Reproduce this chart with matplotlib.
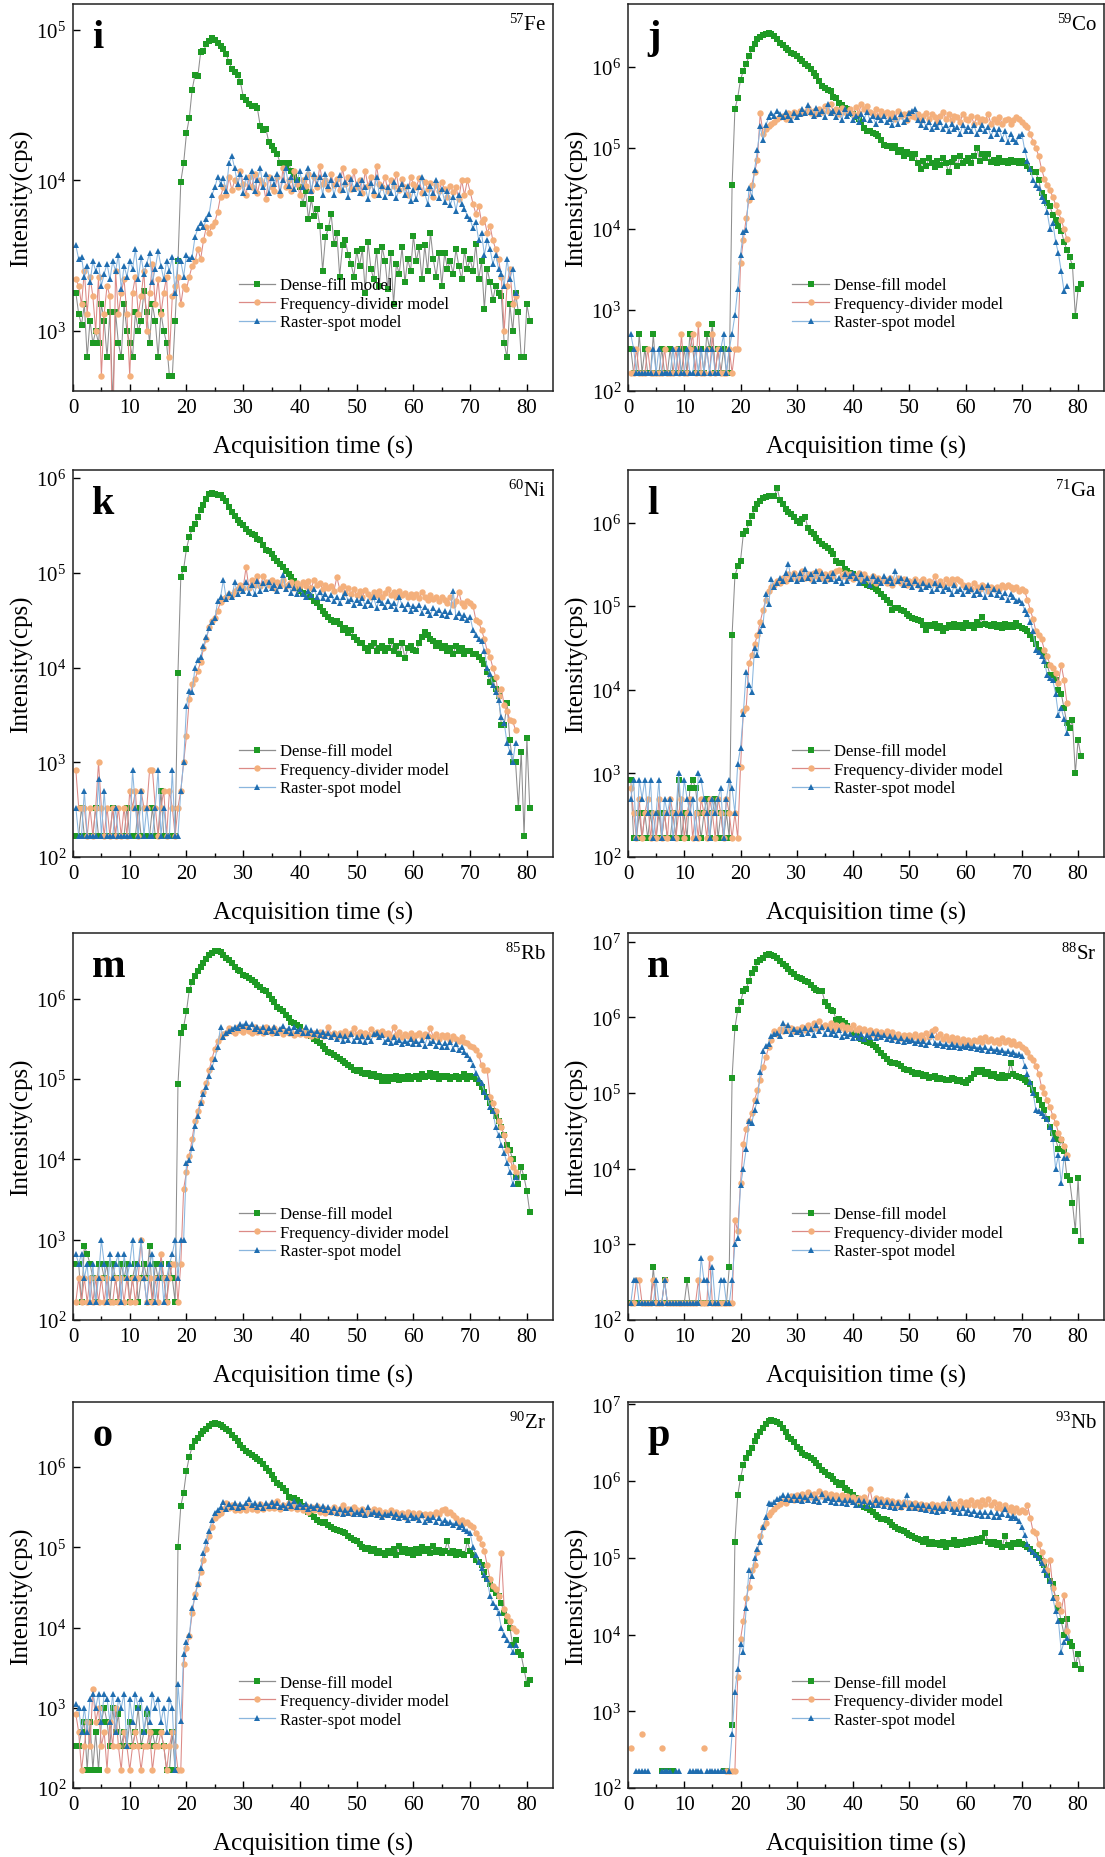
import numpy as np
import matplotlib
matplotlib.use("Agg")
import matplotlib.pyplot as plt
from matplotlib.lines import Line2D
from matplotlib.ticker import MultipleLocator, NullLocator, LogLocator

# Sweep interval used to read the traces (s); point k is at DT*k
DT = 0.5

# ---------------- i : 57Fe ----------------
fe_dense = [1800, 1300, 1100, 1500, 670, 1170, 830, 1000, 830, 1500,
            1170, 670, 1330, 330, 1330, 830, 670, 1500, 1000, 830,
            670, 1330, 1000, 1170, 1830, 1330, 830, 1500, 1170, 670,
            1330, 1000, 830, 500, 500, 1170, 2900, 9800, 1.3e4, 2.05e4,
            2.6e4, 4.0e4, 5.0e4, 4.9e4, 7.1e4, 7.2e4, 8.0e4, 8.4e4, 8.8e4, 8.5e4,
            8.2e4, 7.8e4, 7.4e4, 6.9e4, 6.1e4, 5.5e4, 5.2e4, 5.0e4, 4.5e4, 3.6e4,
            3.4e4, 3.2e4, 3.1e4, 3.1e4, 3.0e4, 2.3e4, 2.15e4, 2.2e4, 1.8e4, 1.7e4,
            1.6e4, 1.5e4, 1.3e4, 1.3e4, 1.25e4, 1.3e4, 1.15e4, 1.1e4, 1.0e4, 9.0e3,
            7.0e3, 8.5e3, 5.5e3, 7.5e3, 5.8e3, 6.5e3, 5.0e3, 2.5e3, 4.2e3, 4.8e3,
            6.0e3, 3.8e3, 4.5e3, 2.3e3, 3.7e3, 4.0e3, 3.2e3, 2.8e3, 2.3e3, 3.4e3,
            2.7e3, 3.5e3, 1.8e3, 3.9e3, 2.6e3, 2.2e3, 3.4e3, 2.0e3, 3.6e3, 2.9e3,
            1.9e3, 3.3e3, 1.5e3, 2.8e3, 2.4e3, 3.6e3, 2.1e3, 3.0e3, 2.5e3, 4.3e3,
            2.9e3, 3.6e3, 2.2e3, 3.7e3, 2.5e3, 4.5e3, 3.0e3, 2.3e3, 3.3e3, 2.0e3,
            3.3e3, 2.6e3, 2.9e3, 2.4e3, 3.5e3, 2.7e3, 2.2e3, 3.4e3, 2.6e3, 3.0e3,
            2.5e3, 3.8e3, 2.2e3, 2.9e3, 1.4e3, 2.6e3, 2.1e3, 1.6e3, 2.0e3, 1.8e3,
            1.7e3, 830, 670, 1500, 1000, 1800, 1330, 670, 670, 1500,
            1170]
fe_freq = [2200, 2000, 1500, 2500, 1300, 2300, 1700, 1000, 2300, 500,
           1300, 2000, 1700, 167, 2500, 1300, 1800, 2200, 1300, 500,
           1800, 2300, 1300, 1700, 2500, 1000, 1800, 2800, 1500, 2200,
           1300, 1800, 2300, 670, 1700, 2000, 2300, 1500, 2000, 1900,
           2300, 2700, 2900, 3500, 3000, 4000, 4900, 4500, 5000, 5300,
           6200, 7800, 9000, 8000, 10500, 8600, 10000, 9000, 11500, 9500,
           8000, 10500, 9000, 11000, 8200, 10000, 9500, 7500, 10500, 9000,
           8500, 10500, 8000, 12000, 9000, 10000, 8500, 11500, 9500, 8000,
           10000, 9200, 11000, 8500, 10500, 9000, 12500, 9500, 10000, 8700,
           11000, 9300, 10200, 8600, 12000, 9500, 10500, 8800, 11500, 9000,
           10000, 8300, 11500, 9200, 10500, 8000, 12500, 9500, 9000, 10500,
           8500, 10000, 9200, 11000, 8600, 10200, 9000, 8000, 10500, 9500,
           9000, 10300, 8300, 9800, 8800, 9600, 7800, 9300, 8500, 9700,
           8800, 7700, 9200, 8400, 9000, 7500, 10000, 8000, 10000, 8400,
           7000, 6000, 6800, 5300, 5500, 4500, 5000, 4000, 3500, 3000,
           2300, 1000, 2000, 2600, 1500, 1700]
fe_raster = [3700, 3000, 3100, 2300, 2700, 2100, 2900, 2500, 2800, 2000,
             2400, 2800, 2200, 2900, 2500, 3200, 1900, 2700, 2300, 2900,
             2600, 3500, 2200, 3100, 2400, 2800, 3300, 2100, 2600, 3400,
             2700, 2200, 2900, 2500, 3100, 1800, 3000, 2900, 2300, 3200,
             3000, 3100, 4200, 4800, 5200, 4900, 5500, 6000, 8000, 9000,
             10500, 9500, 10300, 8500, 13000, 14500, 12000, 9500, 11000, 8300,
             10500, 9000, 11500, 8500, 10000, 12000, 9000, 11000, 8200, 10300,
             9500, 11000, 8500, 10000, 12000, 9200, 10500, 8700, 10000, 11500,
             9000, 10500, 12000, 8500, 11000, 9500, 10500, 8000, 11000, 9200,
             10000, 8000, 9500, 10800, 8600, 9800, 7800, 10200, 8800, 9400,
             8300, 10000, 9000, 7500, 9600, 8500, 10500, 8000, 9200, 7700,
             9000, 8200, 9700, 7600, 8800, 9500, 8000, 9200, 7300, 8600,
             7500, 9000, 10500, 8200, 7000, 9200, 8300, 10000, 7600, 8800,
             7200, 8500, 6900, 7800, 6300, 8000, 7000, 6500, 5800, 5500,
             4800, 5300, 4000, 4500, 3200, 4000, 3500, 2800, 3200, 2600,
             2400, 2000, 3000, 2200, 2600, 1800]

# ---------------- j : 59Co ----------------
co_dense = [333, 167, 167, 500, 167, 333, 167, 167, 500, 167,
            167, 333, 167, 167, 333, 167, 167, 333, 167, 333,
            167, 500, 333, 167, 167, 333, 167, 500, 333, 667,
            167, 333, 167, 333, 167, 167, 3.5e4, 3.0e5, 4.2e5, 7.0e5,
            9.0e5, 1.1e6, 1.35e6, 1.65e6, 1.9e6, 2.2e6, 2.35e6, 2.5e6, 2.55e6, 2.6e6,
            2.55e6, 2.4e6, 2.2e6, 2.0e6, 1.85e6, 1.7e6, 1.6e6, 1.5e6, 1.45e6, 1.35e6,
            1.27e6, 1.2e6, 1.1e6, 1.02e6, 9.4e5, 8.5e5, 7.7e5, 6.8e5, 5.8e5, 5.5e5,
            5.2e5, 5.0e5, 4.3e5, 4.2e5, 3.6e5, 3.4e5, 3.1e5, 3.0e5, 2.8e5, 2.6e5,
            2.4e5, 2.25e5, 2.1e5, 1.75e5, 1.6e5, 1.6e5, 1.55e5, 1.5e5, 1.4e5, 1.25e5,
            1.1e5, 1.05e5, 1.05e5, 1.0e5, 1.05e5, 9.0e4, 9.5e4, 8.0e4, 9.0e4, 8.5e4,
            7.5e4, 8.5e4, 6.5e4, 5.5e4, 7.0e4, 6.0e4, 7.5e4, 6.5e4, 5.8e4, 7.0e4,
            6.2e4, 7.5e4, 6.5e4, 5.0e4, 6.8e4, 7.5e4, 6.0e4, 8.0e4, 6.5e4, 7.0e4,
            7.5e4, 6.5e4, 8.0e4, 1.0e5, 7.0e4, 8.5e4, 7.5e4, 8.5e4, 6.8e4, 7.2e4,
            6.5e4, 7.5e4, 6.8e4, 7.0e4, 6.5e4, 7.2e4, 6.8e4, 7.0e4, 6.5e4, 7.0e4,
            6.5e4, 6.0e4, 5.5e4, 5.0e4, 5.0e4, 4.0e4, 2.8e4, 2.5e4, 2.1e4, 1.9e4,
            1.5e4, 1.3e4, 1.1e4, 9.5e3, 7.0e3, 5.5e3, 4.5e3, 3.5e3, 850, 1.8e3,
            2.1e3]
co_freq = [167, 167, 333, 167, 167, 167, 333, 167, 167, 167,
           167, 167, 333, 167, 167, 167, 333, 167, 500, 167,
           167, 333, 500, 167, 667, 167, 167, 333, 167, 500,
           167, 333, 167, 167, 167, 333, 167, 333, 333, 3800,
           7.3e3, 1.35e4, 2.3e4, 3.5e4, 5.0e4, 7.2e4, 2.7e5, 1.5e5, 1.7e5, 1.85e5,
           2.0e5, 2.1e5, 2.3e5, 2.4e5, 2.5e5, 2.3e5, 2.7e5, 2.5e5, 2.8e5, 2.6e5,
           2.9e5, 2.7e5, 2.8e5, 3.1e5, 2.7e5, 2.9e5, 2.6e5, 3.0e5, 2.8e5, 3.3e5,
           2.9e5, 3.5e5, 2.8e5, 3.0e5, 2.6e5, 3.1e5, 2.8e5, 2.7e5, 3.0e5, 2.6e5,
           3.2e5, 2.7e5, 3.5e5, 3.0e5, 3.3e5, 2.8e5, 2.6e5, 3.0e5, 2.5e5, 2.9e5,
           2.6e5, 2.8e5, 2.4e5, 2.7e5, 2.3e5, 2.9e5, 2.5e5, 2.6e5, 2.2e5, 2.7e5,
           2.5e5, 2.4e5, 2.6e5, 2.2e5, 2.5e5, 2.7e5, 2.3e5, 2.6e5, 2.4e5, 2.1e5,
           2.5e5, 2.8e5, 2.3e5, 2.6e5, 2.2e5, 2.5e5, 2.4e5, 2.1e5, 2.6e5, 2.3e5,
           2.2e5, 2.5e5, 2.0e5, 2.4e5, 2.1e5, 2.3e5, 2.2e5, 2.6e5, 2.0e5, 2.3e5,
           2.1e5, 2.4e5, 2.0e5, 2.2e5, 2.3e5, 2.0e5, 2.2e5, 2.4e5, 2.3e5, 2.1e5,
           1.9e5, 1.8e5, 1.5e5, 1.2e5, 1.0e5, 8.0e4, 5.5e4, 4.2e4, 3.5e4, 3.0e4,
           2.5e4, 2.0e4, 1.6e4, 1.3e4, 1.0e4, 7.5e3]
co_raster = [500, 333, 167, 167, 167, 167, 167, 167, 333, 167,
             333, 167, 167, 167, 167, 333, 167, 333, 167, 167,
             333, 167, 167, 333, 167, 333, 167, 333, 167, 333,
             167, 167, 333, 500, 167, 333, 510, 860, 1800, 4800,
             9.3e3, 9.8e3, 3.2e4, 2.5e4, 5.4e4, 9.5e4, 1.85e5, 1.25e5, 1.9e5, 2.4e5,
             2.7e5, 2.5e5, 2.9e5, 2.6e5, 2.4e5, 2.8e5, 2.5e5, 2.2e5, 2.7e5, 2.4e5,
             2.6e5, 3.0e5, 2.7e5, 3.4e5, 2.8e5, 2.5e5, 3.1e5, 2.6e5, 2.9e5, 2.4e5,
             3.5e5, 2.7e5, 2.9e5, 2.4e5, 2.8e5, 2.2e5, 3.0e5, 2.5e5, 2.7e5, 2.2e5,
             2.5e5, 2.1e5, 2.6e5, 2.3e5, 2.8e5, 2.2e5, 2.5e5, 2.0e5, 2.4e5, 2.2e5,
             2.5e5, 2.1e5, 2.3e5, 1.9e5, 2.4e5, 2.0e5, 2.6e5, 2.1e5, 2.3e5, 2.7e5,
             2.9e5, 3.0e5, 2.2e5, 1.9e5, 2.2e5, 1.8e5, 2.1e5, 1.7e5, 2.0e5, 1.8e5,
             2.1e5, 1.7e5, 1.9e5, 1.6e5, 2.0e5, 1.7e5, 1.8e5, 1.5e5, 1.9e5, 1.6e5,
             1.8e5, 1.6e5, 1.9e5, 1.5e5, 1.7e5, 1.9e5, 1.6e5, 1.8e5, 1.4e5, 1.7e5,
             1.5e5, 1.7e5, 1.3e5, 1.6e5, 1.2e5, 1.5e5, 1.3e5, 1.2e5, 1.4e5, 1.5e5,
             9.5e4, 7.0e4, 5.5e4, 4.0e4, 3.5e4, 3.2e4, 2.5e4, 2.2e4, 1.6e4, 1.0e4,
             1.2e4, 7.0e3, 5.0e3, 3.0e3, 1.7e3, 2.0e3]

# ---------------- k : 60Ni ----------------
ni_dense = [167, 167, 333, 167, 167, 167, 167, 333, 167, 167,
            167, 167, 167, 333, 167, 167, 167, 167, 333, 167,
            167, 167, 333, 167, 167, 167, 167, 333, 167, 167,
            500, 167, 167, 167, 167, 167, 8.8e3, 9.1e4, 1.1e5, 1.8e5,
            2.4e5, 2.9e5, 3.3e5, 3.9e5, 4.6e5, 5.2e5, 6.0e5, 6.8e5, 7.0e5, 6.8e5,
            6.7e5, 6.6e5, 6.2e5, 5.8e5, 5.0e5, 4.4e5, 4.0e5, 3.6e5, 3.4e5, 3.2e5,
            2.9e5, 2.7e5, 2.6e5, 2.5e5, 2.3e5, 2.2e5, 1.95e5, 1.75e5, 1.7e5, 1.6e5,
            1.45e5, 1.35e5, 1.25e5, 1.15e5, 1.05e5, 9.8e4, 9.0e4, 8.3e4, 7.5e4, 6.5e4,
            6.2e4, 6.0e4, 5.8e4, 5.5e4, 5.0e4, 4.8e4, 4.4e4, 4.0e4, 3.7e4, 3.4e4,
            3.2e4, 3.0e4, 3.1e4, 2.9e4, 2.5e4, 2.6e4, 2.3e4, 2.5e4, 2.1e4, 1.95e4,
            1.8e4, 1.8e4, 1.6e4, 1.5e4, 1.7e4, 1.8e4, 1.5e4, 1.6e4, 1.7e4, 1.5e4,
            1.6e4, 1.9e4, 1.5e4, 1.7e4, 1.4e4, 1.8e4, 1.25e4, 1.6e4, 1.7e4, 1.55e4,
            1.5e4, 1.8e4, 2.1e4, 2.4e4, 2.2e4, 2.0e4, 1.9e4, 1.7e4, 1.8e4, 1.6e4,
            1.7e4, 1.5e4, 1.6e4, 1.4e4, 1.7e4, 1.5e4, 1.6e4, 1.4e4, 1.5e4, 1.5e4,
            1.4e4, 1.4e4, 1.3e4, 1.2e4, 1.1e4, 9.0e3, 7.0e3, 7.5e3, 6.0e3, 5.0e3,
            2.5e3, 2.5e3, 4.2e3, 1.7e3, 1.0e3, 1.0e3, 330, 1.3e3, 167, 1.8e3,
            330]
ni_freq = [830, 333, 333, 333, 167, 333, 167, 333, 1000, 333,
           167, 333, 167, 333, 167, 333, 167, 333, 167, 500,
           333, 500, 167, 500, 333, 333, 830, 830, 333, 167,
           333, 500, 167, 500, 333, 167, 333, 500, 1.0e3, 1.9e3,
           4.7e3, 6.7e3, 7.5e3, 9.3e3, 1.15e4, 1.6e4, 2.0e4, 2.7e4, 3.1e4, 3.3e4,
           4.0e4, 4.9e4, 5.3e4, 5.5e4, 6.0e4, 5.8e4, 6.5e4, 6.8e4, 7.5e4, 7.0e4,
           1.15e5, 7.0e4, 8.5e4, 7.5e4, 9.2e4, 7.2e4, 9.2e4, 8.0e4, 7.5e4, 8.5e4,
           7.0e4, 8.0e4, 7.5e4, 8.5e4, 7.2e4, 7.6e4, 8.0e4, 7.0e4, 7.8e4, 7.2e4,
           8.0e4, 7.3e4, 8.2e4, 7.0e4, 8.4e4, 7.5e4, 7.8e4, 6.8e4, 7.4e4, 7.0e4,
           7.3e4, 6.5e4, 9.0e4, 6.8e4, 7.2e4, 6.2e4, 7.0e4, 6.0e4, 6.8e4, 5.8e4,
           6.5e4, 5.6e4, 6.6e4, 6.0e4, 5.5e4, 6.3e4, 5.8e4, 6.5e4, 5.6e4, 6.2e4,
           6.8e4, 5.9e4, 6.3e4, 5.5e4, 6.5e4, 5.8e4, 6.2e4, 5.5e4, 6.0e4, 5.6e4,
           6.0e4, 5.4e4, 6.3e4, 5.6e4, 5.2e4, 5.8e4, 5.3e4, 5.6e4, 5.0e4, 5.5e4,
           5.2e4, 4.8e4, 5.5e4, 4.6e4, 5.0e4, 6.3e4, 4.8e4, 4.5e4, 5.0e4, 4.8e4,
           4.5e4, 3.2e4, 3.0e4, 2.5e4, 2.0e4, 1.5e4, 1.3e4, 1.0e4, 8.0e3, 5.0e3,
           6.0e3, 4.0e3, 3.5e3, 2.8e3, 2.7e3, 2.2e3]
ni_raster = [333, 167, 167, 500, 167, 167, 167, 167, 667, 167,
             500, 167, 167, 167, 333, 167, 167, 167, 167, 167,
             830, 333, 167, 500, 167, 333, 167, 167, 333, 830,
             167, 333, 167, 167, 830, 167, 167, 500, 1.0e3, 3.9e3,
             5.7e3, 5.5e3, 1.0e4, 1.2e4, 1.3e4, 1.7e4, 2.1e4, 2.6e4, 3.0e4, 3.3e4,
             5.0e4, 5.5e4, 8.5e4, 5.3e4, 6.2e4, 5.5e4, 8.0e4, 6.0e4, 7.0e4, 6.5e4,
             8.0e4, 6.2e4, 7.5e4, 6.0e4, 8.2e4, 6.5e4, 7.8e4, 6.8e4, 8.0e4, 7.0e4,
             7.5e4, 6.5e4, 7.2e4, 9.5e4, 6.8e4, 7.5e4, 6.2e4, 7.0e4, 6.0e4, 6.8e4,
             6.0e4, 5.5e4, 6.5e4, 5.8e4, 6.8e4, 5.5e4, 6.3e4, 5.4e4, 6.0e4, 5.3e4,
             5.8e4, 5.0e4, 5.6e4, 4.8e4, 5.5e4, 6.2e4, 5.0e4, 5.3e4, 4.6e4, 5.2e4,
             4.8e4, 5.4e4, 4.5e4, 5.0e4, 4.6e4, 5.5e4, 4.3e4, 5.2e4, 4.8e4, 4.4e4,
             5.0e4, 4.5e4, 4.8e4, 4.2e4, 5.5e4, 4.6e4, 4.2e4, 4.7e4, 4.0e4, 4.5e4,
             4.2e4, 4.6e4, 3.8e4, 4.4e4, 4.0e4, 3.6e4, 4.3e4, 3.8e4, 4.1e4, 3.6e4,
             4.0e4, 3.5e4, 3.9e4, 6.5e4, 3.4e4, 3.8e4, 3.3e4, 3.6e4, 3.2e4, 3.4e4,
             2.5e4, 2.2e4, 2.0e4, 1.9e4, 1.5e4, 1.0e4, 8.5e3, 6.5e3, 5.5e3, 4.5e3,
             3.0e3, 2.6e3, 1.6e3, 1.3e3, 1.0e3, 1.6e3]

# ---------------- l : 71Ga ----------------
ga_dense = [833, 167, 167, 333, 167, 333, 167, 333, 167, 167,
            333, 167, 333, 167, 167, 333, 167, 833, 167, 333,
            167, 667, 833, 667, 333, 167, 333, 500, 167, 333,
            500, 167, 333, 167, 333, 167, 4.5e4, 2.3e5, 3.0e5, 3.5e5,
            7.3e5, 7.9e5, 1.0e6, 1.2e6, 1.45e6, 1.65e6, 1.8e6, 1.95e6, 2.0e6, 2.1e6,
            2.1e6, 2.05e6, 2.6e6, 1.85e6, 1.65e6, 1.45e6, 1.35e6, 1.25e6, 1.15e6, 1.05e6,
            1.0e6, 1.1e6, 1.15e6, 8.5e5, 7.8e5, 7.3e5, 6.6e5, 6.0e5, 5.5e5, 5.2e5,
            4.9e5, 4.6e5, 4.2e5, 3.5e5, 3.3e5, 3.3e5, 2.8e5, 2.6e5, 2.5e5, 2.4e5,
            2.3e5, 2.2e5, 2.0e5, 1.9e5, 1.8e5, 1.75e5, 1.7e5, 1.6e5, 1.5e5, 1.4e5,
            1.3e5, 1.2e5, 1.1e5, 9.0e4, 9.5e4, 9.5e4, 9.0e4, 8.7e4, 8.0e4, 7.6e4,
            7.3e4, 7.0e4, 6.8e4, 6.6e4, 6.0e4, 5.2e4, 6.0e4, 5.8e4, 6.2e4, 5.5e4,
            5.8e4, 5.0e4, 5.5e4, 6.0e4, 5.6e4, 6.2e4, 5.7e4, 6.0e4, 5.5e4, 6.3e4,
            5.8e4, 6.0e4, 5.5e4, 6.5e4, 6.0e4, 7.5e4, 6.2e4, 6.0e4, 5.8e4, 6.2e4,
            5.6e4, 6.0e4, 5.5e4, 6.2e4, 5.7e4, 6.0e4, 5.6e4, 6.3e4, 5.8e4, 5.5e4,
            5.3e4, 5.0e4, 4.5e4, 4.0e4, 3.5e4, 3.0e4, 2.8e4, 2.5e4, 2.0e4, 1.5e4,
            1.5e4, 1.3e4, 1.0e4, 9.0e3, 6.0e3, 4.0e3, 3.5e3, 4.3e3, 1.0e3, 2.5e3,
            1.6e3]
ga_freq = [667, 333, 167, 500, 167, 333, 500, 167, 333, 167,
           500, 167, 333, 167, 500, 333, 167, 333, 500, 167,
           333, 500, 167, 333, 167, 500, 333, 167, 500, 333,
           167, 500, 333, 167, 500, 333, 167, 333, 167, 1.2e3,
           5.5e3, 6.0e3, 2.1e4, 2.6e4, 3.5e4, 4.5e4, 6.5e4, 9.0e4, 1.2e5, 1.5e5,
           1.7e5, 1.8e5, 2.0e5, 1.9e5, 2.2e5, 2.0e5, 2.4e5, 2.2e5, 2.5e5, 2.1e5,
           2.3e5, 2.6e5, 2.2e5, 2.4e5, 2.1e5, 2.5e5, 2.3e5, 2.6e5, 2.2e5, 2.4e5,
           2.1e5, 2.5e5, 2.3e5, 2.6e5, 2.7e5, 2.3e5, 2.5e5, 2.2e5, 2.4e5, 2.1e5,
           2.3e5, 2.5e5, 2.1e5, 2.4e5, 2.2e5, 2.0e5, 2.3e5, 1.9e5, 2.2e5, 2.0e5,
           2.1e5, 1.9e5, 2.2e5, 1.8e5, 2.0e5, 2.2e5, 1.9e5, 2.1e5, 1.8e5, 2.0e5,
           1.9e5, 2.1e5, 1.8e5, 2.0e5, 2.1e5, 1.8e5, 2.0e5, 1.9e5, 2.3e5, 1.8e5,
           2.0e5, 1.8e5, 2.1e5, 1.9e5, 2.1e5, 1.8e5, 2.1e5, 2.0e5, 1.8e5, 1.7e5,
           1.8e5, 1.6e5, 1.9e5, 1.7e5, 1.6e5, 1.8e5, 1.7e5, 1.5e5, 1.7e5, 1.6e5,
           1.7e5, 1.6e5, 1.8e5, 1.7e5, 1.8e5, 1.7e5, 1.6e5, 1.7e5, 1.5e5, 1.6e5,
           1.5e5, 1.2e5, 9.0e4, 7.0e4, 5.0e4, 4.5e4, 4.0e4, 3.0e4, 2.5e4, 2.0e4,
           1.8e4, 1.6e4, 1.2e4, 2.0e4, 1.3e4, 7.0e3]
ga_raster = [500, 833, 167, 833, 500, 833, 333, 833, 167, 333,
             833, 167, 500, 333, 500, 167, 333, 1.0e3, 333, 833,
             500, 333, 500, 167, 1.0e3, 833, 500, 333, 167, 500,
             333, 500, 667, 167, 500, 833, 667, 333, 1.3e3, 2.0e3,
             5.2e3, 1.65e4, 1.15e4, 9.5e3, 3.2e4, 2.6e4, 5.0e4, 6.0e4, 1.4e5, 1.05e5,
             2.1e5, 1.7e5, 1.9e5, 2.2e5, 2.0e5, 2.5e5, 3.2e5, 2.1e5, 2.4e5, 2.0e5,
             2.5e5, 2.1e5, 2.8e5, 2.2e5, 2.4e5, 2.0e5, 2.6e5, 2.1e5, 2.5e5, 2.0e5,
             2.3e5, 2.1e5, 2.5e5, 2.0e5, 2.2e5, 1.9e5, 2.4e5, 2.0e5, 2.3e5, 2.5e5,
             2.2e5, 1.9e5, 2.4e5, 2.0e5, 2.2e5, 1.8e5, 2.3e5, 2.0e5, 2.1e5, 1.9e5,
             2.3e5, 2.0e5, 2.2e5, 1.9e5, 2.6e5, 2.0e5, 2.2e5, 1.8e5, 2.1e5, 1.9e5,
             1.7e5, 2.0e5, 1.8e5, 1.6e5, 1.9e5, 1.7e5, 1.8e5, 1.5e5, 1.9e5, 1.6e5,
             1.8e5, 1.5e5, 1.7e5, 1.6e5, 1.4e5, 1.8e5, 1.5e5, 1.6e5, 1.4e5, 1.7e5,
             1.5e5, 1.6e5, 1.35e5, 1.5e5, 1.4e5, 1.7e5, 1.3e5, 1.8e5, 1.4e5, 1.6e5,
             1.35e5, 1.5e5, 1.3e5, 1.45e5, 1.2e5, 1.4e5, 1.3e5, 1.15e5, 1.2e5, 1.1e5,
             9.0e4, 8.0e4, 6.5e4, 5.0e4, 3.0e4, 2.8e4, 2.5e4, 2.2e4, 1.5e4, 1.4e4,
             1.3e4, 9.0e3, 5.0e3, 6.0e3, 4.5e3, 3.0e3]

# ---------------- m : 85Rb ----------------
rb_dense = [500, 500, 167, 833, 667, 500, 333, 167, 500, 500,
            333, 500, 167, 500, 333, 167, 500, 333, 500, 167,
            333, 500, 167, 333, 500, 333, 833, 167, 500, 333,
            500, 333, 167, 500, 333, 167, 8.7e4, 3.7e5, 4.5e5, 7.0e5,
            1.3e6, 1.6e6, 1.9e6, 2.2e6, 2.5e6, 2.8e6, 3.1e6, 3.5e6, 3.7e6, 3.9e6,
            3.9e6, 3.8e6, 3.5e6, 3.2e6, 3.0e6, 2.8e6, 2.5e6, 2.3e6, 2.2e6, 2.0e6,
            1.9e6, 1.8e6, 1.7e6, 1.6e6, 1.5e6, 1.4e6, 1.3e6, 1.25e6, 1.1e6, 1.0e6,
            9.0e5, 8.0e5, 7.5e5, 7.0e5, 6.3e5, 5.7e5, 5.2e5, 5.0e5, 4.7e5, 4.5e5,
            4.0e5, 3.7e5, 3.5e5, 3.4e5, 3.2e5, 3.0e5, 2.8e5, 2.6e5, 2.4e5, 2.2e5,
            2.1e5, 2.0e5, 1.9e5, 1.8e5, 1.7e5, 1.6e5, 1.5e5, 1.4e5, 1.3e5, 1.25e5,
            1.3e5, 1.2e5, 1.15e5, 1.2e5, 1.1e5, 1.15e5, 1.05e5, 1.1e5, 9.5e4, 1.05e5,
            9.5e4, 1.05e5, 1.0e5, 1.1e5, 9.8e4, 1.05e5, 1.0e5, 1.1e5, 1.0e5, 1.05e5,
            1.1e5, 1.0e5, 1.15e5, 1.05e5, 1.1e5, 1.2e5, 1.05e5, 1.15e5, 1.0e5, 1.1e5,
            1.05e5, 1.1e5, 1.0e5, 1.05e5, 1.1e5, 1.0e5, 1.05e5, 1.15e5, 1.0e5, 1.1e5,
            1.05e5, 1.0e5, 9.0e4, 8.0e4, 7.0e4, 6.0e4, 5.0e4, 4.0e4, 3.5e4, 3.0e4,
            2.5e4, 2.0e4, 1.5e4, 1.3e4, 1.0e4, 6.0e3, 5.0e3, 8.0e3, 6.0e3, 4.0e3,
            2.2e3]
rb_freq = [167, 333, 167, 333, 167, 333, 167, 333, 167, 333,
           167, 333, 167, 167, 333, 167, 333, 167, 333, 167,
           333, 167, 333, 1.0e3, 333, 167, 333, 167, 333, 167,
           667, 333, 167, 333, 500, 500, 167, 500, 4.3e3, 7.0e3,
           1.1e4, 1.8e4, 3.0e4, 4.0e4, 5.2e4, 7.0e4, 9.0e4, 1.3e5, 1.8e5, 2.4e5,
           3.0e5, 3.3e5, 3.6e5, 3.8e5, 4.3e5, 4.0e5, 3.8e5, 4.5e5, 4.1e5, 3.9e5,
           4.3e5, 4.0e5, 3.8e5, 4.4e5, 3.9e5, 4.2e5, 3.8e5, 4.5e5, 4.0e5, 3.7e5,
           4.3e5, 3.9e5, 4.1e5, 3.6e5, 4.0e5, 3.7e5, 3.9e5, 3.5e5, 3.8e5, 3.6e5,
           4.0e5, 3.5e5, 3.8e5, 3.4e5, 3.7e5, 3.5e5, 3.9e5, 3.4e5, 3.6e5, 4.5e5,
           3.5e5, 3.8e5, 3.3e5, 3.7e5, 3.4e5, 4.0e5, 3.5e5, 3.8e5, 4.3e5, 3.6e5,
           3.9e5, 3.4e5, 3.8e5, 3.5e5, 4.2e5, 3.6e5, 3.9e5, 3.4e5, 4.0e5, 3.6e5,
           3.8e5, 3.3e5, 4.5e5, 3.5e5, 3.9e5, 3.3e5, 3.6e5, 3.4e5, 3.7e5, 3.2e5,
           3.5e5, 3.8e5, 3.3e5, 3.6e5, 3.4e5, 4.3e5, 3.3e5, 3.6e5, 3.2e5, 3.5e5,
           3.3e5, 3.5e5, 3.1e5, 3.4e5, 3.2e5, 3.0e5, 3.3e5, 2.9e5, 2.8e5, 2.6e5,
           2.5e5, 2.3e5, 2.0e5, 1.5e5, 1.3e5, 1.3e5, 6.0e4, 5.0e4, 4.0e4, 3.0e4,
           2.5e4, 2.0e4, 1.3e4, 1.0e4, 8.0e3, 7.0e3]
rb_raster = [667, 500, 667, 333, 500, 167, 500, 167, 333, 1.0e3,
             500, 167, 667, 333, 500, 667, 167, 667, 333, 500,
             1.0e3, 333, 500, 1.0e3, 333, 167, 500, 667, 167, 333,
             500, 167, 333, 500, 667, 1.0e3, 333, 1.0e3, 1.0e3, 9.0e3,
             9.8e3, 1.4e4, 2.6e4, 3.5e4, 5.0e4, 6.5e4, 8.0e4, 1.1e5, 1.4e5, 1.8e5,
             2.5e5, 4.5e5, 3.3e5, 3.8e5, 4.0e5, 4.2e5, 4.5e5, 4.3e5, 4.8e5, 4.6e5,
             5.0e5, 4.5e5, 4.8e5, 4.2e5, 4.5e5, 4.0e5, 4.4e5, 3.9e5, 4.3e5, 4.0e5,
             4.4e5, 3.8e5, 4.2e5, 4.6e5, 4.0e5, 4.3e5, 3.8e5, 4.5e5, 4.0e5, 4.2e5,
             3.8e5, 4.4e5, 3.7e5, 4.1e5, 3.6e5, 4.0e5, 3.5e5, 3.9e5, 3.4e5, 3.7e5,
             3.3e5, 3.6e5, 3.2e5, 3.5e5, 3.0e5, 3.4e5, 3.1e5, 3.6e5, 3.0e5, 3.3e5,
             3.0e5, 3.4e5, 2.9e5, 3.3e5, 3.0e5, 3.6e5, 3.8e5, 3.3e5, 3.5e5, 2.9e5,
             3.2e5, 2.8e5, 3.3e5, 2.9e5, 3.1e5, 2.7e5, 3.0e5, 2.8e5, 3.2e5, 2.7e5,
             3.0e5, 2.7e5, 3.1e5, 2.6e5, 3.4e5, 2.8e5, 3.0e5, 2.6e5, 2.9e5, 2.5e5,
             2.8e5, 2.5e5, 2.9e5, 2.4e5, 2.7e5, 2.3e5, 2.5e5, 2.2e5, 2.0e5, 1.8e5,
             1.5e5, 1.2e5, 1.0e5, 9.0e4, 7.0e4, 6.0e4, 4.5e4, 4.0e4, 2.5e4, 2.0e4,
             1.5e4, 1.2e4, 9.0e3, 7.0e3, 5.0e3, 6.0e3]

# ---------------- n : 88Sr ----------------
sr_dense = [167, 167, 167, 167, 167, 167, 167, 167, 500, 167,
            167, 167, 333, 167, 167, 167, 167, 167, 167, 167,
            333, 167, 167, 167, 167, 167, 167, 167, 167, 167,
            167, 167, 167, 167, 167, 500, 1.6e5, 7.2e5, 1.25e6, 1.6e6,
            2.2e6, 2.4e6, 3.0e6, 3.9e6, 4.4e6, 5.3e6, 5.8e6, 6.1e6, 6.6e6, 6.8e6,
            6.7e6, 6.4e6, 6.0e6, 5.6e6, 5.1e6, 4.7e6, 4.3e6, 4.0e6, 3.7e6, 3.4e6,
            3.3e6, 3.2e6, 3.0e6, 2.9e6, 2.7e6, 2.45e6, 2.3e6, 2.2e6, 2.2e6, 1.6e6,
            1.4e6, 1.26e6, 1.2e6, 9.3e5, 9.5e5, 9.0e5, 8.5e5, 7.7e5, 7.0e5, 6.2e5,
            5.8e5, 5.5e5, 5.2e5, 4.8e5, 4.7e5, 4.6e5, 4.3e5, 4.0e5, 3.7e5, 3.4e5,
            3.1e5, 2.8e5, 2.6e5, 2.5e5, 2.5e5, 2.4e5, 2.3e5, 2.1e5, 2.0e5, 2.0e5,
            1.9e5, 1.8e5, 1.85e5, 1.8e5, 1.7e5, 1.75e5, 1.6e5, 1.65e5, 1.7e5, 1.55e5,
            1.6e5, 1.55e5, 1.5e5, 1.5e5, 1.6e5, 1.55e5, 1.45e5, 1.5e5, 1.4e5, 1.35e5,
            1.5e5, 1.6e5, 1.8e5, 2.0e5, 1.9e5, 2.0e5, 1.8e5, 1.9e5, 1.7e5, 1.8e5,
            1.65e5, 1.6e5, 1.75e5, 1.6e5, 1.7e5, 2.5e5, 1.8e5, 1.7e5, 1.65e5, 1.6e5,
            1.5e5, 1.4e5, 1.3e5, 1.1e5, 9.5e4, 8.0e4, 7.0e4, 6.0e4, 4.5e4, 3.5e4,
            3.0e4, 2.5e4, 1.8e4, 2.4e4, 1.7e4, 8.0e3, 7.0e3, 3.5e3, 1.5e3, 7.5e3,
            1.1e3]
sr_freq = [167, 167, 333, 333, 167, 167, 167, 167, 333, 167,
           167, 167, 333, 167, 167, 167, 167, 167, 167, 167,
           167, 167, 167, 167, 333, 167, 167, 167, 667, 167,
           167, 167, 167, 167, 167, 167, 167, 2.1e3, 1.5e3, 6.5e3,
           2.1e4, 3.3e4, 4.2e4, 5.5e4, 8.0e4, 1.1e5, 1.5e5, 2.2e5, 3.0e5, 4.0e5,
           5.0e5, 6.5e5, 6.0e5, 7.0e5, 6.5e5, 7.5e5, 6.8e5, 7.2e5, 6.5e5, 7.0e5,
           6.5e5, 7.5e5, 6.8e5, 7.8e5, 7.0e5, 8.5e5, 7.2e5, 9.0e5, 7.5e5, 8.0e5,
           7.5e5, 8.5e5, 7.0e5, 8.0e5, 7.3e5, 7.8e5, 6.8e5, 7.5e5, 7.0e5, 8.0e5,
           6.8e5, 7.2e5, 6.5e5, 7.0e5, 6.3e5, 6.8e5, 6.0e5, 6.5e5, 5.8e5, 6.3e5,
           6.0e5, 6.5e5, 5.7e5, 6.3e5, 5.5e5, 6.0e5, 5.4e5, 5.8e5, 5.5e5, 5.9e5,
           5.5e5, 6.0e5, 5.3e5, 5.8e5, 5.2e5, 6.2e5, 5.5e5, 6.5e5, 7.0e5, 5.5e5,
           6.0e5, 5.2e5, 5.7e5, 5.0e5, 5.5e5, 4.8e5, 5.3e5, 4.7e5, 5.2e5, 4.6e5,
           5.0e5, 4.6e5, 5.0e5, 4.8e5, 5.3e5, 4.7e5, 5.5e5, 4.8e5, 5.2e5, 4.7e5,
           5.0e5, 4.6e5, 5.3e5, 4.7e5, 5.0e5, 4.5e5, 4.8e5, 4.3e5, 4.5e5, 4.0e5,
           3.8e5, 3.5e5, 3.0e5, 2.7e5, 2.3e5, 1.8e5, 1.2e5, 1.0e5, 8.0e4, 6.5e4,
           5.0e4, 4.0e4, 3.0e4, 2.5e4, 2.0e4, 1.5e4]
sr_raster = [167, 333, 333, 167, 167, 167, 167, 167, 167, 333,
             167, 167, 333, 167, 167, 167, 167, 167, 167, 167,
             167, 167, 167, 167, 167, 667, 333, 333, 167, 500,
             167, 167, 333, 333, 167, 167, 333, 1.0e3, 1.2e3, 6.0e3,
             1.0e4, 1.8e4, 4.2e4, 4.0e4, 6.0e4, 7.8e4, 1.9e5, 3.6e5, 4.2e5, 4.5e5,
             5.6e5, 6.0e5, 6.2e5, 5.6e5, 8.5e5, 6.5e5, 8.0e5, 6.0e5, 7.0e5, 6.3e5,
             6.8e5, 6.0e5, 7.2e5, 6.2e5, 7.0e5, 5.8e5, 8.0e5, 6.5e5, 7.5e5, 6.0e5,
             7.0e5, 6.0e5, 6.5e5, 5.8e5, 6.8e5, 5.5e5, 6.2e5, 5.6e5, 6.0e5, 5.4e5,
             5.8e5, 5.3e5, 6.0e5, 5.2e5, 5.8e5, 5.5e5, 6.2e5, 5.3e5, 6.0e5, 5.5e5,
             5.8e5, 5.2e5, 5.6e5, 5.0e5, 5.5e5, 4.8e5, 5.3e5, 4.7e5, 5.2e5, 4.8e5,
             5.0e5, 4.6e5, 4.9e5, 4.4e5, 4.8e5, 4.3e5, 4.7e5, 5.8e5, 4.6e5, 4.3e5,
             4.6e5, 4.2e5, 4.5e5, 4.1e5, 4.4e5, 4.0e5, 4.3e5, 3.9e5, 4.2e5, 4.0e5,
             4.3e5, 3.9e5, 4.2e5, 3.8e5, 4.1e5, 3.7e5, 4.0e5, 3.6e5, 3.9e5, 3.6e5,
             3.8e5, 3.5e5, 3.7e5, 3.4e5, 3.6e5, 3.3e5, 3.5e5, 3.2e5, 3.3e5, 3.1e5,
             2.3e5, 1.8e5, 1.4e5, 1.0e5, 6.0e4, 5.8e4, 5.5e4, 5.0e4, 4.5e4, 3.5e4,
             2.5e4, 1.0e4, 1.5e4, 6.5e3, 1.4e4, 1.4e4]

# ---------------- o : 90Zr ----------------
zr_dense = [333, 333, 500, 667, 167, 667, 167, 500, 167, 667,
            1000, 667, 333, 1000, 500, 833, 333, 500, 333, 667,
            333, 500, 1000, 333, 500, 833, 333, 500, 333, 500,
            500, 333, 167, 167, 500, 167, 1.0e5, 3.3e5, 4.8e5, 9.0e5,
            1.35e6, 1.8e6, 2.1e6, 2.3e6, 2.6e6, 2.8e6, 3.0e6, 3.3e6, 3.5e6, 3.6e6,
            3.5e6, 3.4e6, 3.2e6, 3.0e6, 2.8e6, 2.5e6, 2.3e6, 2.1e6, 1.9e6, 1.75e6,
            1.6e6, 1.5e6, 1.4e6, 1.35e6, 1.25e6, 1.2e6, 1.1e6, 9.8e5, 9.0e5, 8.0e5,
            7.2e5, 6.4e5, 6.0e5, 5.5e5, 5.0e5, 4.2e5, 4.1e5, 4.1e5, 3.9e5, 3.7e5,
            3.3e5, 2.9e5, 2.8e5, 2.6e5, 2.4e5, 2.2e5, 2.1e5, 2.0e5, 2.1e5, 1.9e5,
            1.8e5, 1.7e5, 1.65e5, 1.6e5, 1.55e5, 1.5e5, 1.4e5, 1.3e5, 1.25e5, 1.2e5,
            1.1e5, 1.0e5, 9.5e4, 9.8e4, 9.0e4, 9.5e4, 8.5e4, 9.0e4, 8.5e4, 8.0e4,
            9.0e4, 8.5e4, 9.5e4, 8.0e4, 1.05e5, 8.8e4, 9.5e4, 8.5e4, 9.2e4, 8.0e4,
            9.5e4, 8.5e4, 1.0e5, 9.0e4, 9.5e4, 8.5e4, 1.05e5, 8.8e4, 9.2e4, 8.5e4,
            9.0e4, 1.2e5, 8.5e4, 9.0e4, 8.0e4, 8.8e4, 8.2e4, 8.0e4, 1.2e5, 9.0e4,
            8.0e4, 7.0e4, 6.5e4, 6.0e4, 5.0e4, 4.0e4, 3.5e4, 3.0e4, 2.7e4, 2.5e4,
            2.0e4, 1.5e4, 1.2e4, 1.0e4, 6.0e3, 7.0e3, 5.0e3, 4.5e3, 3.0e3, 2.0e3,
            2.2e3]
zr_freq = [833, 500, 167, 333, 667, 333, 1700, 667, 1000, 333,
           500, 167, 667, 333, 1000, 333, 167, 500, 333, 167,
           333, 500, 333, 167, 333, 333, 500, 167, 333, 333,
           500, 333, 167, 333, 500, 333, 167, 167, 3.5e3, 5.5e3,
           7.8e3, 1.5e4, 2.6e4, 3.5e4, 5.0e4, 7.0e4, 9.5e4, 1.4e5, 1.8e5, 2.3e5,
           2.5e5, 2.7e5, 3.0e5, 3.6e5, 3.1e5, 3.4e5, 2.9e5, 3.3e5, 2.9e5, 3.2e5,
           2.9e5, 3.4e5, 3.0e5, 3.3e5, 2.9e5, 3.5e5, 3.0e5, 3.4e5, 3.1e5, 3.6e5,
           3.1e5, 3.8e5, 3.0e5, 3.4e5, 3.2e5, 3.6e5, 3.1e5, 3.4e5, 3.0e5, 3.2e5,
           2.9e5, 3.3e5, 2.8e5, 3.2e5, 2.9e5, 3.3e5, 2.8e5, 3.1e5, 2.7e5, 3.0e5,
           2.8e5, 3.2e5, 2.7e5, 3.0e5, 3.4e5, 2.8e5, 3.0e5, 2.7e5, 3.2e5, 2.9e5,
           2.7e5, 3.0e5, 2.6e5, 2.9e5, 2.7e5, 3.0e5, 2.6e5, 2.9e5, 2.5e5, 2.8e5,
           2.6e5, 2.9e5, 2.5e5, 2.8e5, 2.5e5, 2.7e5, 2.4e5, 2.8e5, 2.5e5, 2.7e5,
           2.4e5, 2.7e5, 2.5e5, 2.6e5, 2.3e5, 2.6e5, 2.5e5, 2.8e5, 2.6e5, 2.9e5,
           3.0e5, 2.7e5, 2.8e5, 2.5e5, 2.3e5, 2.1e5, 2.2e5, 2.0e5, 2.1e5, 1.9e5,
           1.8e5, 1.5e5, 1.3e5, 1.1e5, 9.0e4, 6.0e4, 4.0e4, 3.3e4, 3.0e4, 2.5e4,
           8.5e4, 1.7e4, 1.4e4, 1.2e4, 1.0e4, 9.0e3]
zr_raster = [1100, 1000, 500, 1000, 500, 1300, 1500, 1000, 1500, 667,
             1500, 1300, 667, 1500, 500, 1300, 1000, 1500, 333, 1300,
             667, 1500, 1000, 1300, 500, 1000, 667, 1500, 1000, 1300,
             667, 1000, 500, 1300, 1000, 167, 2000, 680, 4.7e3, 6.7e3,
             8.0e3, 1.75e4, 2.4e4, 3.5e4, 5.6e4, 8.5e4, 1.2e5, 1.6e5, 2.2e5, 2.7e5,
             2.9e5, 3.2e5, 3.7e5, 3.0e5, 3.5e5, 3.2e5, 3.6e5, 3.1e5, 3.5e5, 3.2e5,
             3.6e5, 4.0e5, 3.4e5, 3.6e5, 3.2e5, 3.5e5, 3.1e5, 3.6e5, 3.3e5, 3.7e5,
             3.3e5, 3.6e5, 3.2e5, 3.4e5, 3.1e5, 3.6e5, 3.3e5, 3.8e5, 3.2e5, 3.5e5,
             3.2e5, 3.5e5, 3.0e5, 3.3e5, 3.1e5, 3.4e5, 3.0e5, 3.3e5, 2.9e5, 3.2e5,
             2.8e5, 3.1e5, 2.7e5, 3.0e5, 2.6e5, 2.9e5, 2.7e5, 3.0e5, 2.6e5, 2.8e5,
             2.6e5, 2.9e5, 2.5e5, 3.2e5, 2.6e5, 2.8e5, 2.5e5, 2.7e5, 2.4e5, 2.6e5,
             2.5e5, 2.7e5, 2.4e5, 2.6e5, 2.3e5, 2.5e5, 2.4e5, 2.2e5, 2.5e5, 2.3e5,
             2.4e5, 2.2e5, 2.5e5, 2.1e5, 2.3e5, 2.2e5, 2.4e5, 2.1e5, 2.3e5, 2.0e5,
             2.2e5, 2.0e5, 2.1e5, 1.9e5, 2.0e5, 1.8e5, 1.9e5, 1.7e5, 1.6e5, 1.5e5,
             1.0e5, 8.0e4, 6.5e4, 5.5e4, 4.5e4, 4.0e4, 2.5e4, 2.0e4, 1.8e4, 1.5e4,
             1.0e4, 8.0e3, 7.0e3, 6.0e3, 5.0e3, 6.0e3]

# ---------------- p : 93Nb (0 = no count recorded) ----------------
nb_dense = [0, 0, 0, 0, 0, 0, 0, 0, 0, 0,
            0, 167, 167, 0, 167, 167, 0, 0, 0, 0,
            0, 0, 0, 0, 0, 0, 0, 0, 0, 0,
            0, 0, 0, 167, 167, 0, 670, 1.6e5, 6.5e5, 1.1e6,
            1.6e6, 2.0e6, 2.3e6, 2.7e6, 3.3e6, 3.9e6, 4.4e6, 4.9e6, 5.5e6, 6.1e6,
            6.3e6, 6.1e6, 5.9e6, 5.5e6, 4.9e6, 4.3e6, 3.8e6, 3.5e6, 3.2e6, 2.8e6,
            2.6e6, 2.3e6, 2.2e6, 2.1e6, 2.0e6, 1.85e6, 1.7e6, 1.55e6, 1.4e6, 1.3e6,
            1.2e6, 1.15e6, 1.05e6, 9.8e5, 9.0e5, 9.5e5, 8.0e5, 7.7e5, 7.2e5, 6.5e5,
            6.0e5, 5.5e5, 5.0e5, 4.6e5, 4.5e5, 4.2e5, 3.9e5, 3.6e5, 3.4e5, 3.2e5,
            3.2e5, 3.1e5, 2.9e5, 2.7e5, 2.5e5, 2.4e5, 2.3e5, 2.2e5, 2.1e5, 2.0e5,
            1.9e5, 1.8e5, 1.75e5, 1.7e5, 1.6e5, 1.75e5, 1.5e5, 1.6e5, 1.5e5, 1.55e5,
            1.45e5, 1.6e5, 1.4e5, 1.55e5, 1.5e5, 1.7e5, 1.45e5, 1.6e5, 1.5e5, 1.65e5,
            1.55e5, 1.7e5, 1.6e5, 1.75e5, 1.65e5, 1.8e5, 2.1e5, 1.6e5, 1.5e5, 1.6e5,
            1.45e5, 1.55e5, 1.4e5, 1.9e5, 1.45e5, 1.4e5, 1.55e5, 1.5e5, 1.6e5, 1.5e5,
            1.45e5, 1.4e5, 1.3e5, 1.2e5, 1.1e5, 1.0e5, 9.0e4, 8.0e4, 6.0e4, 5.0e4,
            4.5e4, 3.0e4, 2.2e4, 1.5e4, 1.0e4, 1.6e4, 8.0e3, 7.0e3, 4.0e3, 5.5e3,
            3.5e3]
nb_freq = [333, 0, 0, 0, 500, 0, 0, 0, 0, 0,
           0, 333, 0, 0, 0, 0, 0, 0, 0, 0,
           0, 0, 0, 0, 0, 0, 333, 0, 0, 0,
           0, 0, 0, 0, 167, 167, 167, 167, 2.8e3, 8.7e3,
           1.5e4, 3.0e4, 4.1e4, 6.9e4, 8.0e4, 1.2e5, 1.9e5, 2.5e5, 2.8e5, 3.6e5,
           4.0e5, 4.3e5, 4.7e5, 5.0e5, 5.5e5, 5.2e5, 5.8e5, 6.3e5, 5.6e5, 6.5e5,
           5.8e5, 6.8e5, 6.0e5, 7.2e5, 6.2e5, 6.8e5, 6.0e5, 7.5e5, 6.3e5, 7.0e5,
           6.2e5, 6.8e5, 6.0e5, 6.6e5, 5.8e5, 6.5e5, 5.7e5, 6.3e5, 5.6e5, 6.2e5,
           5.5e5, 6.0e5, 5.3e5, 6.1e5, 5.4e5, 7.8e5, 5.2e5, 6.0e5, 5.0e5, 5.8e5,
           5.0e5, 5.6e5, 4.8e5, 5.5e5, 4.7e5, 5.4e5, 4.6e5, 5.3e5, 4.8e5, 5.2e5,
           4.6e5, 5.1e5, 4.5e5, 5.0e5, 4.5e5, 4.9e5, 4.4e5, 5.0e5, 4.5e5, 4.8e5,
           4.4e5, 5.0e5, 4.6e5, 5.2e5, 4.5e5, 5.0e5, 4.6e5, 5.5e5, 4.8e5, 5.3e5,
           4.8e5, 5.6e5, 4.9e5, 5.3e5, 4.7e5, 5.6e5, 5.0e5, 5.8e5, 4.9e5, 5.3e5,
           4.5e5, 5.0e5, 4.3e5, 4.8e5, 4.2e5, 4.6e5, 4.0e5, 4.4e5, 3.9e5, 4.2e5,
           4.0e5, 4.8e5, 3.3e5, 2.2e5, 2.1e5, 1.5e5, 1.2e5, 9.0e4, 7.0e4, 9.4e4,
           4.0e4, 3.0e4, 2.5e4, 2.0e4, 3.3e4, 1.1e4]
nb_raster = [0, 0, 167, 167, 167, 167, 167, 0, 0, 0,
             0, 167, 167, 167, 167, 0, 167, 167, 0, 0,
             0, 167, 167, 167, 167, 167, 0, 167, 167, 167,
             167, 167, 167, 167, 0, 167, 510, 1.8e3, 3.5e3, 7.5e3,
             6.0e3, 2.2e4, 6.9e4, 5.8e4, 1.0e5, 1.3e5, 1.6e5, 2.5e5, 3.4e5, 5.1e5,
             5.0e5, 5.3e5, 5.8e5, 6.0e5, 6.5e5, 5.8e5, 6.6e5, 5.7e5, 6.4e5, 5.6e5,
             6.3e5, 5.5e5, 6.2e5, 5.6e5, 6.5e5, 5.5e5, 6.0e5, 5.4e5, 6.8e5, 5.6e5,
             6.0e5, 5.3e5, 5.8e5, 5.2e5, 5.9e5, 5.1e5, 5.7e5, 5.0e5, 5.6e5, 5.4e5,
             4.9e5, 5.6e5, 4.8e5, 5.5e5, 4.7e5, 5.4e5, 4.9e5, 5.6e5, 4.8e5, 5.3e5,
             4.7e5, 5.4e5, 4.6e5, 5.2e5, 4.5e5, 5.1e5, 4.6e5, 5.0e5, 6.5e5, 4.5e5,
             5.0e5, 4.4e5, 4.9e5, 4.3e5, 4.8e5, 4.2e5, 4.7e5, 4.1e5, 4.6e5, 4.0e5,
             4.5e5, 4.1e5, 4.4e5, 6.0e5, 4.3e5, 3.9e5, 4.3e5, 3.8e5, 4.4e5, 3.8e5,
             4.2e5, 3.7e5, 4.1e5, 3.6e5, 4.0e5, 3.5e5, 3.9e5, 3.5e5, 4.0e5, 3.4e5,
             3.8e5, 3.4e5, 3.7e5, 4.3e5, 3.6e5, 3.3e5, 3.5e5, 3.3e5, 3.0e5, 2.5e5,
             2.0e5, 1.5e5, 1.3e5, 1.2e5, 1.1e5, 1.0e5, 8.5e4, 7.0e4, 6.0e4, 5.0e4,
             3.0e4, 2.0e4, 1.5e4, 6.0e3, 8.0e3, 9.0e3]

panel_letters = ["i", "j", "k", "l", "m", "n", "o", "p"]
isotope_mass = ["57", "59", "60", "71", "85", "88", "90", "93"]
isotope_symbol = ["Fe", "Co", "Ni", "Ga", "Rb", "Sr", "Zr", "Nb"]
dense_series = [fe_dense, co_dense, ni_dense, ga_dense, rb_dense, sr_dense, zr_dense, nb_dense]
freq_series = [fe_freq, co_freq, ni_freq, ga_freq, rb_freq, sr_freq, zr_freq, nb_freq]
raster_series = [fe_raster, co_raster, ni_raster, ga_raster, rb_raster, sr_raster, zr_raster, nb_raster]
y_limits = [(400, 1.48e5), (100, 6.0e6), (100, 1.22e6), (100, 4.25e6),
            (100, 6.6e6), (100, 1.3e7), (100, 6.5e6), (100, 1.07e7)]
model_names = ["Dense-fill model", "Frequency-divider model", "Raster-spot model"]

# ---------------- style ----------------
plt.rcParams["font.family"] = ["Liberation Serif", "DejaVu Serif"]
plt.rcParams["mathtext.fontset"] = "custom"
plt.rcParams["mathtext.rm"] = "Liberation Serif"
plt.rcParams["mathtext.it"] = "Liberation Serif:italic"
plt.rcParams["mathtext.bf"] = "Liberation Serif:bold"

styles = [
    dict(marker="s", ms=4.3, mfc="#1e9a24", line="#8e8e8e"),
    dict(marker="o", ms=4.6, mfc="#f4b07c", line="#dc8a86"),
    dict(marker="^", ms=5.0, mfc="#1f6db0", line="#8ab6de"),
]

W, H = 1105, 1858
fig = plt.figure(figsize=(W / 100, H / 100), dpi=100)

col_x = [(73, 553), (628, 1104)]
row_y = [(5, 392), (471, 858), (934, 1321), (1403, 1789)]

for idx in range(8):
    r, c = divmod(idx, 2)
    x0, x1 = col_x[c]
    y0, y1 = row_y[r]
    ax = fig.add_axes([x0 / W, 1 - y1 / H, (x1 - x0) / W, (y1 - y0) / H])
    for series, st in zip((dense_series[idx], freq_series[idx], raster_series[idx]), styles):
        y = np.array(series, dtype=float)
        y[y <= 0] = np.nan
        t = DT * np.arange(1, len(y) + 1)
        ax.plot(t, y, color=st["line"], lw=0.75, marker=st["marker"], ms=st["ms"],
                mfc=st["mfc"], mec=st["mfc"], mew=0)
    ax.set_yscale("log")
    ax.set_xlim(0, 84.6)
    ax.set_ylim(*y_limits[idx])
    ax.xaxis.set_major_locator(MultipleLocator(10))
    ax.xaxis.set_minor_locator(MultipleLocator(5))
    ax.yaxis.set_major_locator(LogLocator(base=10, numticks=12))
    ax.yaxis.set_minor_locator(NullLocator())
    ax.tick_params(which="major", direction="in", length=5, width=1.0, labelsize=15, pad=5)
    ax.tick_params(which="minor", direction="in", length=3, width=1.0)
    ax.tick_params(top=False, right=False)
    for sp in ax.spines.values():
        sp.set_linewidth(1.1)
        sp.set_color("#222222")
    ax.set_xlabel("Acquisition time (s)", fontsize=18, labelpad=13)
    ax.set_ylabel("Intensity(cps)", fontsize=18, labelpad=2)
    ax.text(0.04, 0.96, panel_letters[idx], transform=ax.transAxes, fontsize=29,
            fontweight="bold", ha="left", va="top")
    ax.text(0.985, 0.975, r"$^{%s}$%s" % (isotope_mass[idx], isotope_symbol[idx]),
            transform=ax.transAxes, fontsize=15, ha="right", va="top")
    handles = [Line2D([], [], color=st["line"], lw=0.9, marker=st["marker"], ms=st["ms"],
                      mfc=st["mfc"], mec=st["mfc"], mew=0) for st in styles]
    ax.legend(handles, model_names, loc="center left", bbox_to_anchor=(0.345, 0.225),
              frameon=False, fontsize=12, handlelength=2.2, handletextpad=0.3,
              labelspacing=0.15, borderpad=0, borderaxespad=0)

fig.savefig("out.png", dpi=100)
